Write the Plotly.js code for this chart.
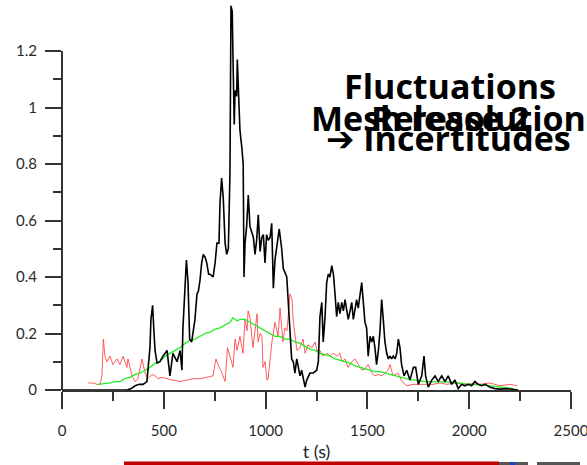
<!DOCTYPE html>
<html>
<head>
<meta charset="utf-8">
<script src="https://cdn.plot.ly/plotly-3.0.1.min.js"></script>
<style>html,body{margin:0;padding:0;background:#fff;}#chart{width:587px;height:465px;}</style>
</head>
<body>
<div id="chart"></div>
<script>
// ---- data ----
const blackT = [0,320,340,359,380,398,417,432,437,445,452,457,467,481,496,516,530,545,565,580,589,594,604,611,619,627,637,645,653,663,670,678,686,694,703,711,720,727,742,752,761,771,776,784,792,801,809,817,825,830,836,841,846,850,858,861,868,874,883,890,894,899,907,915,923,932,940,948,956,964,973,981,989,997,1005,1013,1022,1030,1038,1046,1055,1067,1079,1087,1104,1112,1120,1128,1136,1144,1153,1161,1169,1177,1185,1194,1202,1218,1234,1251,1259,1267,1276,1283,1292,1300,1308,1316,1325,1333,1341,1349,1357,1365,1374,1382,1390,1398,1406,1415,1423,1431,1439,1447,1455,1464,1472,1480,1488,1496,1504,1513,1521,1529,1537,1545,1554,1562,1570,1578,1586,1595,1603,1611,1619,1627,1636,1644,1652,1660,1668,1680,1693,1709,1726,1737,1750,1767,1778,1786,1799,1816,1832,1848,1865,1881,1897,1914,1930,1946,1963,1979,1996,2012,2028,2044,2061,2078,2102,2127,2151,2184,2217,2241];
const blackY = [0,0,0.005,0.015,0.02,0.02,0.03,0.15,0.25,0.30,0.20,0.14,0.095,0.10,0.12,0.14,0.05,0.13,0.10,0.14,0.07,0.22,0.36,0.46,0.38,0.18,0.17,0.22,0.25,0.34,0.35,0.39,0.45,0.48,0.47,0.45,0.41,0.41,0.40,0.45,0.52,0.52,0.66,0.75,0.68,0.52,0.48,0.50,0.77,1.36,1.34,1.13,0.94,1.06,1.04,1.17,1.02,0.92,0.86,0.80,0.40,0.52,0.58,0.69,0.58,0.56,0.54,0.48,0.53,0.62,0.49,0.54,0.55,0.45,0.55,0.53,0.54,0.59,0.36,0.46,0.51,0.57,0.50,0.43,0.40,0.29,0.18,0.11,0.10,0.06,0.11,0.08,0.05,0.07,0.035,0.01,0.035,0.06,0.06,0.07,0.10,0.26,0.31,0.17,0.26,0.38,0.41,0.40,0.44,0.41,0.34,0.26,0.31,0.27,0.31,0.28,0.32,0.29,0.25,0.28,0.31,0.25,0.29,0.32,0.29,0.33,0.38,0.31,0.24,0.22,0.12,0.19,0.17,0.19,0.15,0.09,0.14,0.21,0.32,0.25,0.17,0.13,0.11,0.12,0.11,0.12,0.11,0.13,0.18,0.15,0.09,0.05,0.07,0.035,0.08,0.08,0.02,0.05,0.12,0.05,0.01,0.035,0.05,0.03,0.05,0.03,0.05,0.02,0.035,0.005,0.02,0.015,0.02,0.015,0.03,0.02,0.015,0.02,0.01,0.005,0.003,0.005,0.003,0];

const redT = [128,152,172,187,196,203,211,221,236,250,270,285,300,319,324,344,359,373,393,408,422,442,457,472,491,516,545,580,614,643,678,712,742,756,766,786,801,813,825,840,850,860,874,889,899,909,914,923,938,958,963,973,982,987,997,1007,1012,1022,1031,1046,1061,1071,1085,1095,1105,1120,1130,1135,1144,1154,1169,1184,1194,1208,1228,1243,1252,1267,1282,1302,1316,1331,1351,1365,1375,1390,1405,1424,1439,1454,1473,1488,1503,1523,1537,1552,1572,1586,1601,1611,1626,1650,1670,1694,1724,1758,1793,1822,1857,1891,1930,1970,2014,2053,2102,2151,2200,2235];
const redY = [0.025,0.025,0.02,0.02,0.05,0.18,0.12,0.10,0.12,0.09,0.11,0.09,0.12,0.08,0.11,0.05,0.03,0.04,0.11,0.06,0.04,0.055,0.05,0.04,0.045,0.04,0.035,0.03,0.035,0.04,0.04,0.045,0.05,0.11,0.09,0.06,0.03,0.15,0.12,0.08,0.18,0.14,0.19,0.13,0.25,0.21,0.28,0.26,0.15,0.27,0.17,0.20,0.19,0.08,0.10,0.035,0.04,0.11,0.17,0.24,0.19,0.29,0.17,0.22,0.21,0.34,0.32,0.25,0.20,0.14,0.15,0.18,0.13,0.16,0.15,0.17,0.14,0.14,0.12,0.13,0.12,0.13,0.12,0.13,0.10,0.11,0.08,0.10,0.11,0.09,0.07,0.075,0.09,0.06,0.05,0.055,0.05,0.06,0.07,0.09,0.05,0.06,0.03,0.015,0.02,0.02,0.02,0.02,0.025,0.02,0.025,0.02,0.022,0.02,0.025,0.015,0.02,0.015];

const greenT = [177,200,236,260,285,310,334,359,383,408,432,457,481,506,530,555,580,604,629,653,678,702,727,751,776,800,825,840,860,874,899,923,948,972,997,1021,1046,1071,1095,1120,1144,1169,1194,1218,1243,1267,1292,1316,1341,1365,1390,1415,1440,1464,1488,1513,1537,1562,1586,1611,1636,1660,1685,1709,1734,1758,1783,1807,1832,1856,1881,1905,1930,1955,1979,2004,2028,2053,2077,2102,2126,2151,2175,2200,2217];
const greenY = [0.02,0.022,0.025,0.03,0.03,0.04,0.045,0.055,0.06,0.07,0.08,0.095,0.10,0.12,0.13,0.14,0.15,0.165,0.177,0.18,0.19,0.20,0.205,0.215,0.22,0.23,0.24,0.255,0.245,0.25,0.25,0.24,0.23,0.22,0.21,0.20,0.19,0.19,0.18,0.18,0.17,0.165,0.155,0.145,0.14,0.13,0.125,0.12,0.11,0.105,0.10,0.095,0.085,0.08,0.075,0.07,0.065,0.065,0.06,0.055,0.05,0.045,0.04,0.037,0.035,0.032,0.03,0.03,0.03,0.03,0.028,0.028,0.025,0.025,0.022,0.02,0.02,0.018,0.017,0.015,0.013,0.012,0.01,0.007,0.005];

const xTickVals = [0,500,1000,1500,2000,2500];
const xTickText = ['0','500','1000','1500','2000','2500'];
const xMinorVals = [250,750,1250,1750,2250];
const yTickVals = [0,0.2,0.4,0.6,0.8,1,1.2];
const yTickText = ['0','0.2','0.4','0.6','0.8','1','1.2'];
const yMinorVals = [0.1,0.3,0.5,0.7,0.9,1.1];

const xTitle = 't (s)';
const overlayTexts = ['Fluctuations','Mesh resolution','Release 2','<span style="font-family:\'DejaVu Sans\'">\u2794</span> Incertitudes'];

// ---- layout helpers (plot area: left 62, width 509, top 0, height 390) ----
const PL = 62, PW = 509, PH = 390;
const px = v => (v - PL) / PW;
const py = v => (PH - v) / PH;
const axisCol = '#333333';
const tickFont = {family: 'Lato, "Open Sans", sans-serif', size: 15, color: '#2a2a2a'};
const bigFont = {family: '"Open Sans", "DejaVu Sans", sans-serif', size: 34, color: '#000000', weight: 'bold'};

const traces = [
  {x: redT, y: redY, type: 'scatter', mode: 'lines', line: {color: '#ff4040', width: 1}, opacity: 0.85, hoverinfo: 'skip'},
  {x: greenT, y: greenY, type: 'scatter', mode: 'lines', line: {color: '#22ee22', width: 1.3}, hoverinfo: 'skip'},
  {x: blackT, y: blackY, type: 'scatter', mode: 'lines', line: {color: '#000000', width: 1.6}, hoverinfo: 'skip'}
];

const annPos = [[450, 86], [448.5, 118], [450, 118], [448, 138]];
const annotations = overlayTexts.map((t, i) => ({
  text: t, xref: 'paper', yref: 'paper', x: px(annPos[i][0]), y: py(annPos[i][1]),
  xanchor: 'center', yanchor: 'middle', showarrow: false, font: bigFont
}));

const shapes = [
  {type: 'line', xref: 'paper', yref: 'y', x0: 0, x1: 0, y0: 0, y1: yTickVals[yTickVals.length - 1], line: {color: axisCol, width: 2}},
  {type: 'rect', xref: 'paper', yref: 'paper', x0: px(124), x1: px(499), y0: py(465), y1: py(461.5), fillcolor: '#c00000', line: {width: 0}},
  {type: 'rect', xref: 'paper', yref: 'paper', x0: px(499), x1: px(528), y0: py(465), y1: py(462), fillcolor: '#555555', line: {width: 0}},
  {type: 'rect', xref: 'paper', yref: 'paper', x0: px(510), x1: px(515), y0: py(465), y1: py(462), fillcolor: '#1f3fd0', line: {width: 0}},
  {type: 'rect', xref: 'paper', yref: 'paper', x0: px(537), x1: px(580), y0: py(465), y1: py(462), fillcolor: '#555555', line: {width: 0}}
];

const layout = {
  width: 587, height: 465,
  margin: {l: PL, r: 587 - PL - PW, t: 0, b: 465 - PH, pad: 0},
  paper_bgcolor: '#ffffff', plot_bgcolor: '#ffffff',
  showlegend: false,
  xaxis: {
    range: [0, 2500], tickmode: 'array', tickvals: xTickVals, ticktext: xTickText,
    ticks: 'outside', ticklen: 17, tickwidth: 2, tickcolor: axisCol,
    minor: {tickmode: 'array', tickvals: xMinorVals, ticks: 'outside', ticklen: 9, tickwidth: 2, tickcolor: axisCol, showgrid: false},
    showline: true, linecolor: axisCol, linewidth: 2, showgrid: false, zeroline: false,
    tickfont: tickFont, ticklabelstandoff: 9, ticklabeloverflow: 'allow', fixedrange: true,
    title: {text: xTitle, font: {family: 'Lato, "Open Sans", sans-serif', size: 18, color: '#222222'}, standoff: 7}
  },
  yaxis: {
    range: [0, 390 / 282.5], tickmode: 'array', tickvals: yTickVals, ticktext: yTickText,
    ticks: 'outside', ticklen: 16, tickwidth: 2, tickcolor: axisCol,
    minor: {tickmode: 'array', tickvals: yMinorVals, ticks: 'outside', ticklen: 8, tickwidth: 2, tickcolor: axisCol, showgrid: false},
    showline: false, showgrid: false, zeroline: false,
    tickfont: tickFont, ticklabelstandoff: 5, fixedrange: true
  },
  annotations: annotations,
  shapes: shapes
};

Plotly.newPlot('chart', traces, layout, {staticPlot: true, displayModeBar: false});
</script>
</body>
</html>
